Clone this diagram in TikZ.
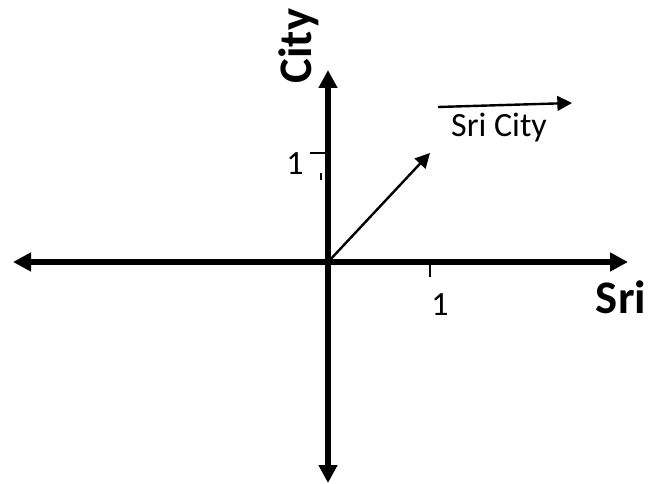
\documentclass[tikz,border=0pt]{standalone}
\usepackage{fontspec}
\setmainfont{Carlito}
\usetikzlibrary{arrows.meta}

\begin{document}
\begin{tikzpicture}[
    x=0.75pt, y=-0.75pt,
    axis/.style={
        line width=5pt,
        {Triangle[length=13.5pt, width=13.5pt]}-{Triangle[length=13.5pt, width=13.5pt]}
    },
    vec/.style={
        line width=1.8pt,
        -{Triangle[length=11pt, width=11pt]}
    },
    tick/.style={
        line width=0.8pt
    },
    small/.style={
        font=\fontsize{25.5}{30}\selectfont,
        inner sep=0pt,
        anchor=base
    },
    big/.style={
        font=\fontsize{35}{40}\selectfont\bfseries,
        inner sep=0pt,
        anchor=base
    }
]
\useasboundingbox (0,0) rectangle (648,484);

% Points
\coordinate (origin) at (328,262);
\coordinate (xleft) at (13,262);
\coordinate (xright) at (628,262);
\coordinate (ytop) at (328,70);
\coordinate (ybottom) at (328,483);
\coordinate (xone) at (430,262);
\coordinate (xonelow) at (430,277);
\coordinate (yone) at (326,153);
\coordinate (yoneleft) at (310,153);
\coordinate (markhi) at (321,173);
\coordinate (marklo) at (321,180);
\coordinate (tip) at (430,153);
\coordinate (namestart) at (438,107);
\coordinate (nameend) at (572,103);

% Axes
\draw[axis] (xleft) -- (xright);
\draw[axis] (ybottom) -- (ytop);

% Ticks
\draw[tick] (xone) -- (xonelow);
\draw[tick] (yoneleft) -- (yone);
\draw[tick] (markhi) -- (marklo);

% Vector and its name
\draw[vec] (origin) -- (tip);
\draw[vec] (namestart) -- (nameend);

% Labels
\node[small] (xlabel) at (440,315) {1};
\node[small] (ylabel) at (295,175) {1};
\node[small] (vlabel) at (499,137) {Sri City};
\node[big] (xname) at (621,313) {Sri};
\node[big, rotate=90] (yname) at (311,46) {City};

\end{tikzpicture}
\end{document}
